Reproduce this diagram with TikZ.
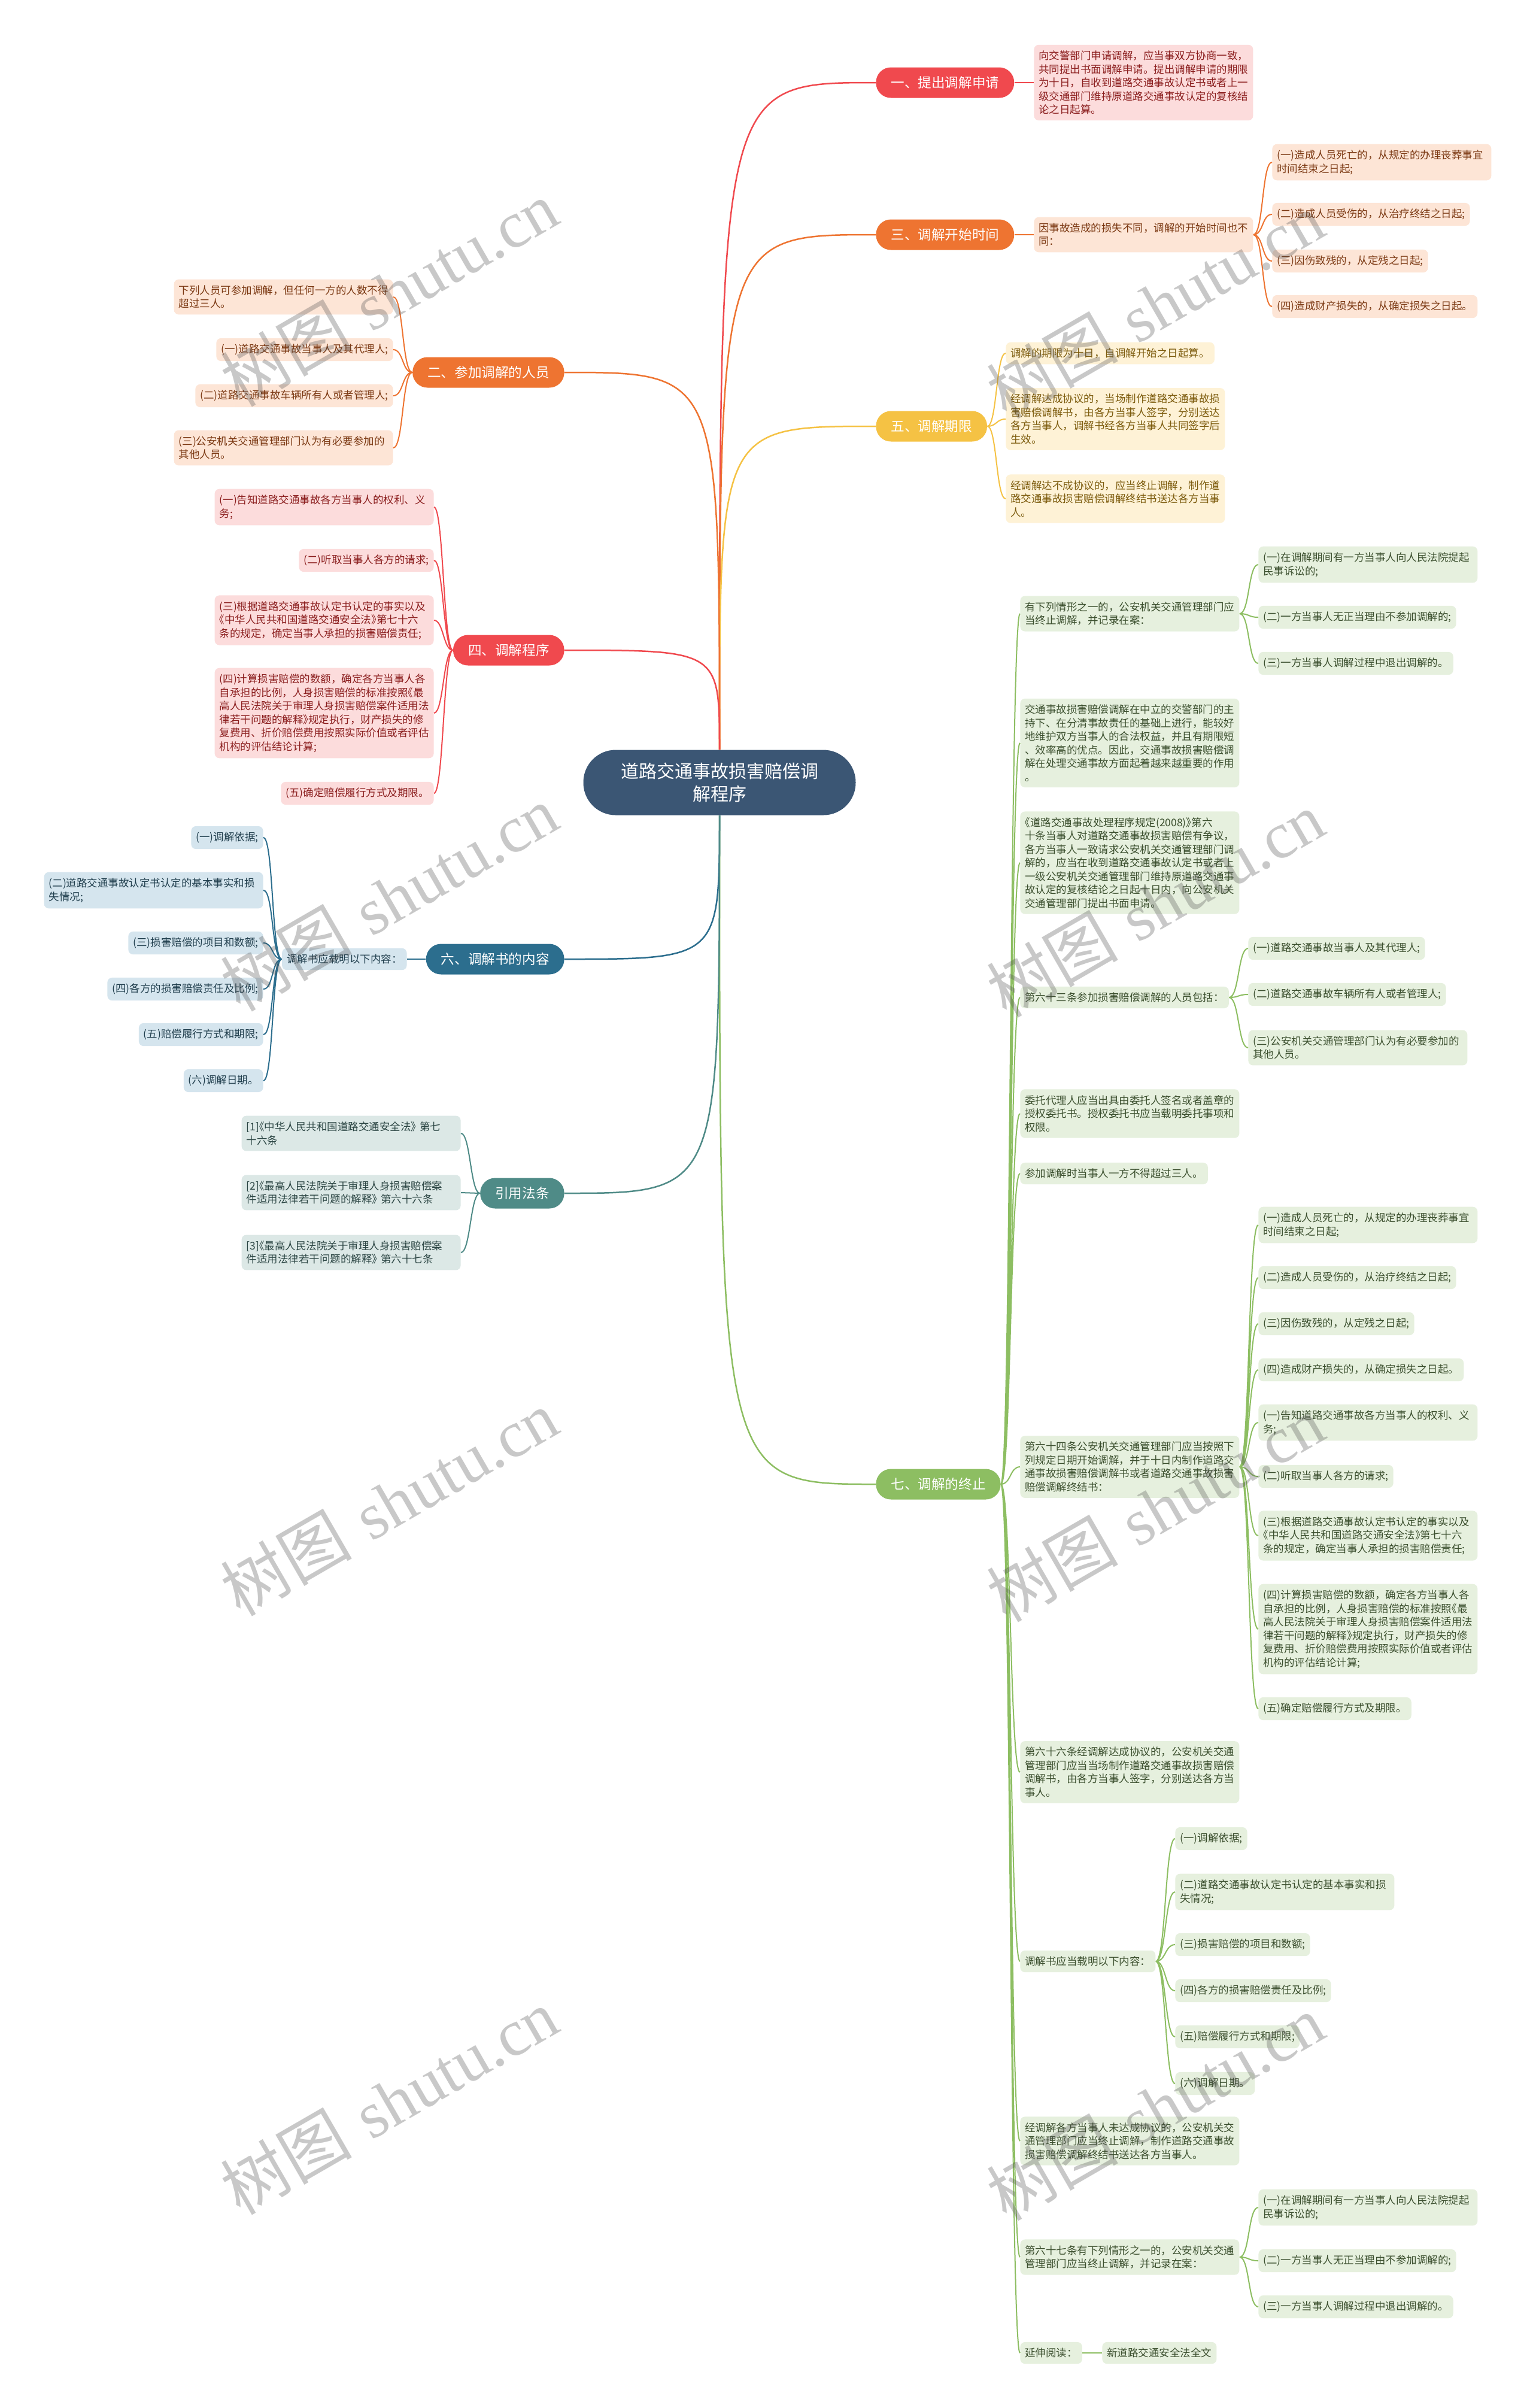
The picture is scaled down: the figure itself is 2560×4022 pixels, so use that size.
\documentclass[tikz,border=0pt]{standalone}
\usepackage{fontspec}
\setmainfont{Noto Sans CJK SC}
\newfontfamily\wmlatin{Liberation Serif}

\definecolor{rootc}{HTML}{3B5674}
\definecolor{redc}{HTML}{F0494E}
\definecolor{redbg}{HTML}{FCDCDC}
\definecolor{redtx}{HTML}{8B1E1E}
\definecolor{orgc}{HTML}{EE7431}
\definecolor{orgbg}{HTML}{FDE5D6}
\definecolor{orgtx}{HTML}{7B3812}
\definecolor{yelc}{HTML}{F5C244}
\definecolor{yelbg}{HTML}{FEF2D6}
\definecolor{yeltx}{HTML}{7D5C0E}
\definecolor{bluc}{HTML}{2C6E8E}
\definecolor{blubg}{HTML}{D5E5EE}
\definecolor{blutx}{HTML}{203E4D}
\definecolor{tealc}{HTML}{4F8B87}
\definecolor{tealbg}{HTML}{DCE8E6}
\definecolor{tealtx}{HTML}{2B4543}
\definecolor{grnc}{HTML}{8DBE62}
\definecolor{grnbg}{HTML}{E6F0DE}
\definecolor{grntx}{HTML}{3B4F2E}

\newcommand{\lbook}{\makebox[0.5em][r]{《}}
\newcommand{\rbook}{\makebox[0.5em][l]{》}}

\tikzset{
  root/.style={fill=rootc, text=white, rounded corners=27pt, minimum width=227.5pt,
    minimum height=54.5pt, align=center, font=\fontsize{15}{19}\selectfont},
  topic/.style={fill=#1, text=white, rounded corners=12.5pt, minimum height=25.5pt,
    inner xsep=12.5pt, font=\fontsize{11.3}{13}\selectfont},
  leaf/.style 2 args={fill=#1, text=#2, rounded corners=4pt, inner xsep=4pt, inner ysep=5pt,
    align=left, font=\fontsize{8.75}{11.25}\selectfont},
  redleaf/.style={leaf={redbg}{redtx}},
  orgleaf/.style={leaf={orgbg}{orgtx}},
  yelleaf/.style={leaf={yelbg}{yeltx}},
  bluleaf/.style={leaf={blubg}{blutx}},
  tealleaf/.style={leaf={tealbg}{tealtx}},
  grnleaf/.style={leaf={grnbg}{grntx}},
  wide/.style={text width=175pt},
  trunk/.style={draw=#1, line width=1.25pt},
  twig/.style={draw=#1, line width=1pt},
  brace/.style={to path={.. controls +(#1,0) and +({-(#1)},0) .. (\tikztotarget)}},
  wm/.style={rotate=30, text=black!70, text opacity=0.3, inner sep=0pt,
    font=\fontsize{55}{55}\selectfont},
}

\begin{document}
\begin{tikzpicture}[x=0.5pt, y=-0.5pt]
  \useasboundingbox (0,0) rectangle (2560,4022);
  \fill[white] (0,0) rectangle (2560,4022);

  \node[root] (root) at (1202,1307) {道路交通事故损害赔偿调\\解程序};

  \node[topic=redc, anchor=west] (b1) at (1463,138) {一、提出调解申请};
  \node[topic=orgc, anchor=west] (b3) at (1463,392) {三、调解开始时间};
  \node[topic=yelc, anchor=west] (b5) at (1463,712) {五、调解期限};
  \node[topic=grnc, anchor=west] (b7) at (1463,2479) {七、调解的终止};
  \node[topic=orgc, anchor=east] (b2) at (943,622) {二、参加调解的人员};
  \node[topic=redc, anchor=east] (b4) at (943,1086) {四、调解程序};
  \node[topic=bluc, anchor=east] (b6) at (943,1602) {六、调解书的内容};
  \node[topic=tealc, anchor=east] (b8) at (943,1993) {引用法条};

  \draw[trunk=redc] (root.north) .. controls (root.north |- b1.west) .. (b1.west);
  \draw[trunk=orgc] (root.north) .. controls (root.north |- b3.west) .. (b3.west);
  \draw[trunk=yelc] (root.north) .. controls (root.north |- b5.west) .. (b5.west);
  \draw[trunk=grnc] (root.south) .. controls (root.south |- b7.west) .. (b7.west);
  \draw[trunk=orgc] (root.north) .. controls (root.north |- b2.east) .. (b2.east);
  \draw[trunk=redc] (root.north) .. controls (root.north |- b4.east) .. (b4.east);
  \draw[trunk=bluc] (root.south) .. controls (root.south |- b6.east) .. (b6.east);
  \draw[trunk=tealc] (root.south) .. controls (root.south |- b8.east) .. (b8.east);

  \node[redleaf, wide, anchor=west] (b1a) at (1727,138) {向交警部门申请调解，应当事双方协商一致，\\共同提出书面调解申请。提出调解申请的期限\\为十日，自收到道路交通事故认定书或者上一\\级交通部门维持原道路交通事故认定的复核结\\论之日起算。};
  \draw[twig=redc] (b1.east) -- (b1a.west);

  \node[orgleaf, wide, anchor=west] (b3a) at (1727,392) {因事故造成的损失不同，调解的开始时间也不\\同：};
  \node[orgleaf, wide, anchor=west] (b3a1) at (2125,271) {(一)造成人员死亡的，从规定的办理丧葬事宜\\时间结束之日起;};
  \node[orgleaf, anchor=west] (b3a2) at (2125,358) {(二)造成人员受伤的，从治疗终结之日起;};
  \node[orgleaf, anchor=west] (b3a3) at (2125,436) {(三)因伤致残的，从定残之日起;};
  \node[orgleaf, anchor=west] (b3a4) at (2125,512) {(四)造成财产损失的，从确定损失之日起。};
  \draw[twig=orgc] (b3.east) -- (b3a.west);
  \draw[twig=orgc] (b3a.east) to[brace=17] (b3a1.west) (b3a.east) to[brace=17] (b3a2.west)
    (b3a.east) to[brace=17] (b3a3.west) (b3a.east) to[brace=17] (b3a4.west);

  \node[yelleaf, anchor=west] (b5a) at (1680,590) {调解的期限为十日，自调解开始之日起算。};
  \node[yelleaf, wide, anchor=west] (b5b) at (1680,700) {经调解达成协议的，当场制作道路交通事故损\\害赔偿调解书，由各方当事人签字，分别送达\\各方当事人，调解书经各方当事人共同签字后\\生效。};
  \node[yelleaf, wide, anchor=west] (b5c) at (1680,833) {经调解达不成协议的，应当终止调解，制作道\\路交通事故损害赔偿调解终结书送达各方当事\\人。};
  \draw[twig=yelc] (b5.east) to[brace=16] (b5a.west) (b5.east) to[brace=16] (b5b.west)
    (b5.east) to[brace=16] (b5c.west);

  \node[orgleaf, wide, anchor=east] (b2a) at (657,496) {下列人员可参加调解，但任何一方的人数不得\\超过三人。};
  \node[orgleaf, anchor=east] (b2b) at (657,584) {(一)道路交通事故当事人及其代理人;};
  \node[orgleaf, anchor=east] (b2c) at (657,661) {(二)道路交通事故车辆所有人或者管理人;};
  \node[orgleaf, wide, anchor=east] (b2d) at (657,748) {(三)公安机关交通管理部门认为有必要参加的\\其他人员。};
  \draw[twig=orgc] (b2.west) to[brace=-17] (b2a.east) (b2.west) to[brace=-17] (b2b.east)
    (b2.west) to[brace=-17] (b2c.east) (b2.west) to[brace=-17] (b2d.east);

  \node[redleaf, wide, anchor=east] (b4a) at (725,847) {(一)告知道路交通事故各方当事人的权利、义\\务;};
  \node[redleaf, anchor=east] (b4b) at (725,936) {(二)听取当事人各方的请求;};
  \node[redleaf, wide, anchor=east] (b4c) at (725,1036) {(三)根据道路交通事故认定书认定的事实以及\\\lbook 中华人民共和国道路交通安全法\rbook 第七十六\\条的规定，确定当事人承担的损害赔偿责任;};
  \node[redleaf, wide, anchor=east] (b4d) at (725,1191) {(四)计算损害赔偿的数额，确定各方当事人各\\自承担的比例，人身损害赔偿的标准按照\lbook 最\\高人民法院关于审理人身损害赔偿案件适用法\\律若干问题的解释\rbook 规定执行，财产损失的修\\复费用、折价赔偿费用按照实际价值或者评估\\机构的评估结论计算;};
  \node[redleaf, anchor=east] (b4e) at (725,1325) {(五)确定赔偿履行方式及期限。};
  \draw[twig=redc] (b4.west) to[brace=-16] (b4a.east) (b4.west) to[brace=-16] (b4b.east)
    (b4.west) to[brace=-16] (b4c.east) (b4.west) to[brace=-16] (b4d.east)
    (b4.west) to[brace=-16] (b4e.east);

  \node[bluleaf, anchor=east] (b6a) at (680,1602) {调解书应载明以下内容：};
  \node[bluleaf, anchor=east] (b6a1) at (440,1399) {(一)调解依据;};
  \node[bluleaf, wide, anchor=east] (b6a2) at (440,1487) {(二)道路交通事故认定书认定的基本事实和损\\失情况;};
  \node[bluleaf, anchor=east] (b6a3) at (440,1575) {(三)损害赔偿的项目和数额;};
  \node[bluleaf, anchor=east] (b6a4) at (440,1652) {(四)各方的损害赔偿责任及比例;};
  \node[bluleaf, anchor=east] (b6a5) at (440,1728) {(五)赔偿履行方式和期限;};
  \node[bluleaf, anchor=east] (b6a6) at (440,1805) {(六)调解日期。};
  \draw[twig=bluc] (b6.west) -- (b6a.east);
  \draw[twig=bluc] (b6a.west) to[brace=-17] (b6a1.east) (b6a.west) to[brace=-17] (b6a2.east)
    (b6a.west) to[brace=-17] (b6a3.east) (b6a.west) to[brace=-17] (b6a4.east)
    (b6a.west) to[brace=-17] (b6a5.east) (b6a.west) to[brace=-17] (b6a6.east);

  \node[tealleaf, wide, anchor=east] (b8a) at (770,1893) {[1]\lbook 中华人民共和国道路交通安全法\rbook\ 第七\\十六条};
  \node[tealleaf, wide, anchor=east] (b8b) at (770,1992) {[2]\lbook 最高人民法院关于审理人身损害赔偿案\\件适用法律若干问题的解释\rbook\ 第六十六条};
  \node[tealleaf, wide, anchor=east] (b8c) at (770,2092) {[3]\lbook 最高人民法院关于审理人身损害赔偿案\\件适用法律若干问题的解释\rbook\ 第六十七条};
  \draw[twig=tealc] (b8.west) to[brace=-16] (b8a.east) (b8.west) to[brace=-16] (b8b.east)
    (b8.west) to[brace=-16] (b8c.east);

  \node[grnleaf, wide, anchor=west] (c1) at (1704,1025) {有下列情形之一的，公安机关交通管理部门应\\当终止调解，并记录在案：};
  \node[grnleaf, wide, anchor=west] (c1a) at (2102,943) {(一)在调解期间有一方当事人向人民法院提起\\民事诉讼的;};
  \node[grnleaf, anchor=west] (c1b) at (2102,1031) {(二)一方当事人无正当理由不参加调解的;};
  \node[grnleaf, anchor=west] (c1c) at (2102,1108) {(三)一方当事人调解过程中退出调解的。};
  \node[grnleaf, wide, anchor=west] (c2) at (1704,1241) {交通事故损害赔偿调解在中立的交警部门的主\\持下、在分清事故责任的基础上进行，能较好\\地维护双方当事人的合法权益，并且有期限短\\、效率高的优点。因此，交通事故损害赔偿调\\解在处理交通事故方面起着越来越重要的作用\\。};
  \node[grnleaf, wide, anchor=west] (c3) at (1704,1441) {\lbook 道路交通事故处理程序规定(2008)\rbook 第六\\十条当事人对道路交通事故损害赔偿有争议，\\各方当事人一致请求公安机关交通管理部门调\\解的，应当在收到道路交通事故认定书或者上\\一级公安机关交通管理部门维持原道路交通事\\故认定的复核结论之日起十日内，向公安机关\\交通管理部门提出书面申请。};
  \node[grnleaf, anchor=west] (c4) at (1704,1666) {第六十三条参加损害赔偿调解的人员包括：};
  \node[grnleaf, anchor=west] (c4a) at (2085,1584) {(一)道路交通事故当事人及其代理人;};
  \node[grnleaf, anchor=west] (c4b) at (2085,1661) {(二)道路交通事故车辆所有人或者管理人;};
  \node[grnleaf, wide, anchor=west] (c4c) at (2085,1750) {(三)公安机关交通管理部门认为有必要参加的\\其他人员。};
  \node[grnleaf, wide, anchor=west] (c5) at (1704,1860) {委托代理人应当出具由委托人签名或者盖章的\\授权委托书。授权委托书应当载明委托事项和\\权限。};
  \node[grnleaf, anchor=west] (c6) at (1704,1960) {参加调解时当事人一方不得超过三人。};
  \node[grnleaf, wide, anchor=west] (c7) at (1704,2450) {第六十四条公安机关交通管理部门应当按照下\\列规定日期开始调解，并于十日内制作道路交\\通事故损害赔偿调解书或者道路交通事故损害\\赔偿调解终结书：};
  \node[grnleaf, wide, anchor=west] (c7a) at (2102,2046) {(一)造成人员死亡的，从规定的办理丧葬事宜\\时间结束之日起;};
  \node[grnleaf, anchor=west] (c7b) at (2102,2134) {(二)造成人员受伤的，从治疗终结之日起;};
  \node[grnleaf, anchor=west] (c7c) at (2102,2211) {(三)因伤致残的，从定残之日起;};
  \node[grnleaf, anchor=west] (c7d) at (2102,2288) {(四)造成财产损失的，从确定损失之日起。};
  \node[grnleaf, wide, anchor=west] (c7e) at (2102,2376) {(一)告知道路交通事故各方当事人的权利、义\\务;};
  \node[grnleaf, anchor=west] (c7f) at (2102,2466) {(二)听取当事人各方的请求;};
  \node[grnleaf, wide, anchor=west] (c7g) at (2102,2565) {(三)根据道路交通事故认定书认定的事实以及\\\lbook 中华人民共和国道路交通安全法\rbook 第七十六\\条的规定，确定当事人承担的损害赔偿责任;};
  \node[grnleaf, wide, anchor=west] (c7h) at (2102,2721) {(四)计算损害赔偿的数额，确定各方当事人各\\自承担的比例，人身损害赔偿的标准按照\lbook 最\\高人民法院关于审理人身损害赔偿案件适用法\\律若干问题的解释\rbook 规定执行，财产损失的修\\复费用、折价赔偿费用按照实际价值或者评估\\机构的评估结论计算;};
  \node[grnleaf, anchor=west] (c7i) at (2102,2854) {(五)确定赔偿履行方式及期限。};
  \node[grnleaf, wide, anchor=west] (c8) at (1704,2960) {第六十六条经调解达成协议的，公安机关交通\\管理部门应当当场制作道路交通事故损害赔偿\\调解书，由各方当事人签字，分别送达各方当\\事人。};
  \node[grnleaf, anchor=west] (c9) at (1704,3276) {调解书应当载明以下内容：};
  \node[grnleaf, anchor=west] (c9a) at (1963,3071) {(一)调解依据;};
  \node[grnleaf, wide, anchor=west] (c9b) at (1963,3160) {(二)道路交通事故认定书认定的基本事实和损\\失情况;};
  \node[grnleaf, anchor=west] (c9c) at (1963,3248) {(三)损害赔偿的项目和数额;};
  \node[grnleaf, anchor=west] (c9d) at (1963,3325) {(四)各方的损害赔偿责任及比例;};
  \node[grnleaf, anchor=west] (c9e) at (1963,3402) {(五)赔偿履行方式和期限;};
  \node[grnleaf, anchor=west] (c9f) at (1963,3480) {(六)调解日期。};
  \node[grnleaf, wide, anchor=west] (c10) at (1704,3576) {经调解各方当事人未达成协议的，公安机关交\\通管理部门应当终止调解，制作道路交通事故\\损害赔偿调解终结书送达各方当事人。};
  \node[grnleaf, wide, anchor=west] (c11) at (1704,3770) {第六十七条有下列情形之一的，公安机关交通\\管理部门应当终止调解，并记录在案：};
  \node[grnleaf, wide, anchor=west] (c11a) at (2102,3687) {(一)在调解期间有一方当事人向人民法院提起\\民事诉讼的;};
  \node[grnleaf, anchor=west] (c11b) at (2102,3776) {(二)一方当事人无正当理由不参加调解的;};
  \node[grnleaf, anchor=west] (c11c) at (2102,3853) {(三)一方当事人调解过程中退出调解的。};
  \node[grnleaf, anchor=west] (c12) at (1704,3930) {延伸阅读：};
  \node[grnleaf, anchor=west] (c12a) at (1841,3930) {新道路交通安全法全文};

  \draw[twig=grnc] (b7.east) to[brace=17] (c1.west) (b7.east) to[brace=17] (c2.west)
    (b7.east) to[brace=17] (c3.west) (b7.east) to[brace=17] (c4.west)
    (b7.east) to[brace=17] (c5.west) (b7.east) to[brace=17] (c6.west)
    (b7.east) to[brace=17] (c7.west) (b7.east) to[brace=17] (c8.west)
    (b7.east) to[brace=17] (c9.west) (b7.east) to[brace=17] (c10.west)
    (b7.east) to[brace=17] (c11.west) (b7.east) to[brace=17] (c12.west);
  \draw[twig=grnc] (c1.east) to[brace=17] (c1a.west) (c1.east) to[brace=17] (c1b.west)
    (c1.east) to[brace=17] (c1c.west);
  \draw[twig=grnc] (c4.east) to[brace=17] (c4a.west) (c4.east) to[brace=17] (c4b.west)
    (c4.east) to[brace=17] (c4c.west);
  \draw[twig=grnc] (c7.east) to[brace=17] (c7a.west) (c7.east) to[brace=17] (c7b.west)
    (c7.east) to[brace=17] (c7c.west) (c7.east) to[brace=17] (c7d.west)
    (c7.east) to[brace=17] (c7e.west) (c7.east) to[brace=17] (c7f.west)
    (c7.east) to[brace=17] (c7g.west) (c7.east) to[brace=17] (c7h.west)
    (c7.east) to[brace=17] (c7i.west);
  \draw[twig=grnc] (c9.east) to[brace=17] (c9a.west) (c9.east) to[brace=17] (c9b.west)
    (c9.east) to[brace=17] (c9c.west) (c9.east) to[brace=17] (c9d.west)
    (c9.east) to[brace=17] (c9e.west) (c9.east) to[brace=17] (c9f.west);
  \draw[twig=grnc] (c11.east) to[brace=17] (c11a.west) (c11.east) to[brace=17] (c11b.west)
    (c11.east) to[brace=17] (c11c.west);
  \draw[twig=grnc] (c12.east) -- (c12a.west);

  \node[wm] (w1) at (650,490) {树图\hspace{0.3em}{\wmlatin shutu.cn}};
  \node[wm] (w2) at (1930,510) {树图\hspace{0.3em}{\wmlatin shutu.cn}};
  \node[wm] (w3) at (650,1500) {树图\hspace{0.3em}{\wmlatin shutu.cn}};
  \node[wm] (w4) at (1930,1510) {树图\hspace{0.3em}{\wmlatin shutu.cn}};
  \node[wm] (w5) at (650,2510) {树图\hspace{0.3em}{\wmlatin shutu.cn}};
  \node[wm] (w6) at (1930,2520) {树图\hspace{0.3em}{\wmlatin shutu.cn}};
  \node[wm] (w7) at (650,3510) {树图\hspace{0.3em}{\wmlatin shutu.cn}};
  \node[wm] (w8) at (1930,3520) {树图\hspace{0.3em}{\wmlatin shutu.cn}};
\end{tikzpicture}
\end{document}
